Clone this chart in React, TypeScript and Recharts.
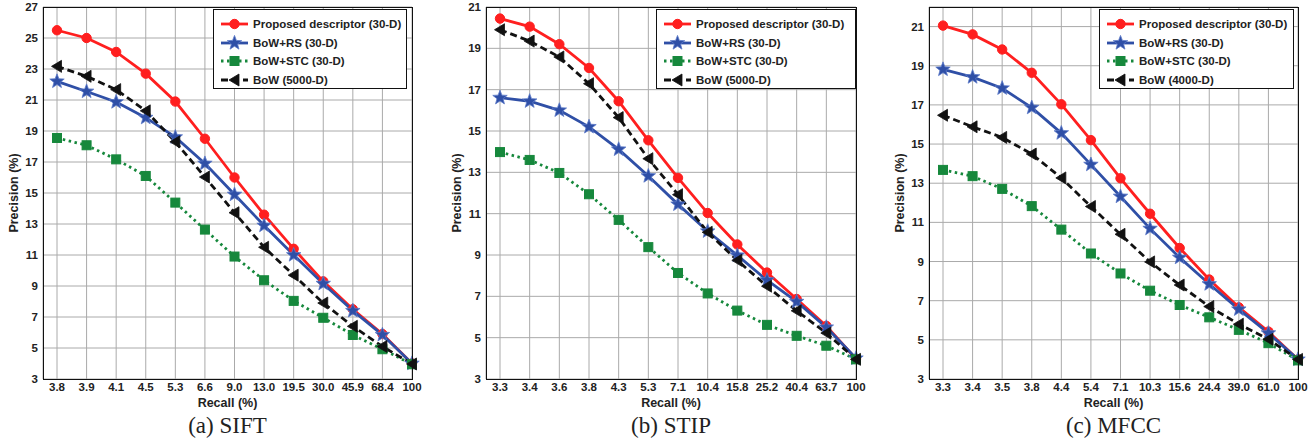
import React from "react";
import { LineChart, Line, XAxis, YAxis, CartesianGrid } from "recharts";

// (a) SIFT
const siftRecall = ["3.8", "3.9", "4.1", "4.5", "5.3", "6.6", "9.0", "13.0", "19.5", "30.0", "45.9", "68.4", "100"];
const siftProposed = [25.5, 25.0, 24.1, 22.7, 20.9, 18.5, 16.0, 13.6, 11.4, 9.3, 7.5, 5.9, 4.0];
const siftRS = [22.2, 21.55, 20.87, 19.86, 18.6, 16.9, 14.9, 12.9, 11.0, 9.15, 7.4, 5.85, 4.0];
const siftSTC = [18.55, 18.08, 17.17, 16.1, 14.38, 12.64, 10.9, 9.37, 8.04, 6.95, 5.84, 4.92, 3.95];
const siftBoW = [23.17, 22.53, 21.67, 20.3, 18.3, 16.03, 13.73, 11.5, 9.7, 7.9, 6.4, 5.1, 3.97];
const siftYTicks = [3, 5, 7, 9, 11, 13, 15, 17, 19, 21, 23, 25, 27];

// (b) STIP
const stipRecall = ["3.3", "3.4", "3.6", "3.8", "4.3", "5.3", "7.1", "10.4", "15.8", "25.2", "40.4", "63.7", "100"];
const stipProposed = [20.44, 20.05, 19.2, 18.05, 16.44, 14.55, 12.73, 11.03, 9.51, 8.15, 6.87, 5.57, 3.97];
const stipRS = [16.61, 16.44, 16.0, 15.2, 14.11, 12.82, 11.45, 10.15, 8.98, 7.78, 6.74, 5.5, 4.0];
const stipSTC = [13.98, 13.6, 12.97, 11.94, 10.7, 9.38, 8.13, 7.14, 6.31, 5.62, 5.09, 4.61, 3.95];
const stipBoW = [19.9, 19.35, 18.58, 17.29, 15.65, 13.66, 11.92, 10.1, 8.74, 7.49, 6.3, 5.22, 3.95];
const stipYTicks = [3, 5, 7, 9, 11, 13, 15, 17, 19, 21];

// (c) MFCC
const mfccRecall = ["3.3", "3.4", "3.5", "3.8", "4.4", "5.4", "7.1", "10.3", "15.6", "24.4", "39.0", "61.0", "100"];
const mfccProposed = [21.05, 20.6, 19.83, 18.64, 17.03, 15.2, 13.25, 11.44, 9.69, 8.08, 6.66, 5.42, 4.0];
const mfccRS = [18.81, 18.42, 17.85, 16.86, 15.56, 13.95, 12.32, 10.68, 9.2, 7.85, 6.56, 5.34, 4.0];
const mfccSTC = [13.68, 13.36, 12.71, 11.83, 10.63, 9.41, 8.39, 7.51, 6.78, 6.15, 5.51, 4.83, 3.95];
const mfccBoW = [16.47, 15.88, 15.34, 14.49, 13.27, 11.81, 10.39, 8.98, 7.8, 6.7, 5.8, 5.03, 4.0];
const mfccYTicks = [3, 5, 7, 9, 11, 13, 15, 17, 19, 21];

const RED = "#ff1f1f";
const BLUE = "#2f4fa6";
const GREEN = "#16883c";
const BLACK = "#111111";
const SANS = '"Liberation Sans", Arial, sans-serif';
const SERIF = '"Liberation Serif", "Times New Roman", serif';

function CircleMark({ cx, cy }: { cx: number; cy: number }) {
  return <circle cx={cx} cy={cy} r={4.7} fill={RED} stroke={RED} strokeWidth={1} />;
}

function StarMark({ cx, cy }: { cx: number; cy: number }) {
  const pts: string[] = [];
  for (let i = 0; i < 10; i++) {
    const r = i % 2 === 0 ? 7.6 : 3.2;
    const a = -Math.PI / 2 + (i * Math.PI) / 5;
    pts.push(`${cx + r * Math.cos(a)},${cy + r * Math.sin(a)}`);
  }
  return <polygon points={pts.join(" ")} fill={BLUE} stroke="#5a78c8" strokeWidth={0.8} />;
}

function SquareMark({ cx, cy }: { cx: number; cy: number }) {
  return <rect x={cx - 4.5} y={cy - 4.5} width={9} height={9} fill={GREEN} stroke={GREEN} />;
}

function TriMark({ cx, cy }: { cx: number; cy: number }) {
  return (
    <polygon
      points={`${cx - 5.5},${cy} ${cx + 4.5},${cy - 6} ${cx + 4.5},${cy + 6}`}
      fill={BLACK}
      stroke={BLACK}
      strokeWidth={0.8}
    />
  );
}

const dotOf = (name: string, Mark: React.FC<{ cx: number; cy: number }>) => (p: any) =>
  p.cx == null || p.cy == null ? (
    <g key={`${name}-${p.index}`} />
  ) : (
    <Mark key={`${name}-${p.index}`} cx={p.cx} cy={p.cy} />
  );

function LegendBox({ left, right, bowLabel }: { left: number; right: number; bowLabel: string }) {
  const w = right - left;
  const rows = [
    { label: "Proposed descriptor (30-D)", color: RED, dash: undefined, Mark: CircleMark },
    { label: "BoW+RS (30-D)", color: BLUE, dash: undefined, Mark: StarMark },
    { label: "BoW+STC (30-D)", color: GREEN, dash: "2.5 3.5", Mark: SquareMark },
    { label: bowLabel, color: BLACK, dash: "7 4", Mark: TriMark },
  ];
  const ys = [14, 33, 51, 70];
  return (
    <svg
      width={w}
      height={80}
      style={{ position: "absolute", left, top: 9, background: "#fff", border: `1px solid ${BLACK}`, boxSizing: "border-box" }}
    >
      {rows.map((r, i) => (
        <g key={r.label}>
          <line x1={7} x2={34} y1={ys[i]} y2={ys[i]} stroke={r.color} strokeWidth={2.8} strokeDasharray={r.dash} />
          <r.Mark cx={20.5} cy={ys[i]} />
          <text x={39} y={ys[i]} dominantBaseline="central" fontFamily={SANS} fontWeight="bold" fontSize={11.5} fill="#222">
            {r.label}
          </text>
        </g>
      ))}
    </svg>
  );
}

type PanelProps = {
  recall: string[];
  proposed: number[];
  rs: number[];
  stc: number[];
  bow: number[];
  bowLabel: string;
  yMax: number;
  yTicks: number[];
  plotLeft: number;
  plotRight: number;
  legendLeft: number;
  legendRight: number;
  caption: string;
};

function Panel(props: PanelProps) {
  const { recall, proposed, rs, stc, bow, yMax, yTicks, plotLeft, plotRight } = props;
  const data = recall.map((r, i) => ({
    recall: r,
    proposed: proposed[i],
    rs: rs[i],
    stc: stc[i],
    bow: bow[i],
  }));
  const chartLeft = plotLeft - 43;
  const width = plotRight - chartLeft + 12;
  const plotTop = 7;
  const plotBottom = 379;
  const mid = (plotLeft + plotRight) / 2;
  const tickStyle = { fontFamily: SANS, fontWeight: "bold" as const, fontSize: 11.5, fill: "#222" };

  return (
    <>
      <div style={{ position: "absolute", left: chartLeft, top: 0 }}>
        <LineChart width={width} height={441} data={data} margin={{ top: 7, right: 12, bottom: 32, left: 8 }}>
          <CartesianGrid stroke="#aaaaaa" strokeWidth={1} />
          <XAxis
            dataKey="recall"
            interval={0}
            padding={{ left: 14, right: 0 }}
            height={30}
            axisLine={false}
            tickLine={false}
            tickSize={2}
            tickMargin={2}
            tick={tickStyle}
          />
          <YAxis
            type="number"
            domain={[3, yMax]}
            ticks={yTicks}
            interval={0}
            width={35}
            axisLine={false}
            tickLine={false}
            tickSize={3}
            tickMargin={2}
            tick={tickStyle}
          />
          <Line dataKey="proposed" stroke={RED} strokeWidth={2.8} dot={dotOf("p", CircleMark)} activeDot={false} isAnimationActive={false} />
          <Line dataKey="rs" stroke={BLUE} strokeWidth={2.8} dot={dotOf("r", StarMark)} activeDot={false} isAnimationActive={false} />
          <Line
            dataKey="stc"
            stroke={GREEN}
            strokeWidth={2.8}
            strokeDasharray="2.5 3.5"
            dot={dotOf("s", SquareMark)}
            activeDot={false}
            isAnimationActive={false}
          />
          <Line
            dataKey="bow"
            stroke={BLACK}
            strokeWidth={2.8}
            strokeDasharray="7 4"
            dot={dotOf("b", TriMark)}
            activeDot={false}
            isAnimationActive={false}
          />
        </LineChart>
      </div>
      <div
        style={{
          position: "absolute",
          left: plotLeft,
          top: plotTop,
          width: plotRight - plotLeft + 1,
          height: plotBottom - plotTop + 1,
          border: `1px solid ${BLACK}`,
          boxSizing: "border-box",
          pointerEvents: "none",
        }}
      />
      <LegendBox left={props.legendLeft} right={props.legendRight} bowLabel={props.bowLabel} />
      <div
        style={{
          position: "absolute",
          left: plotLeft - 29 - 60,
          top: (plotTop + plotBottom) / 2 - 8,
          width: 120,
          textAlign: "center",
          transform: "rotate(-90deg)",
          fontFamily: SANS,
          fontWeight: "bold",
          fontSize: 12.5,
          color: "#222",
          lineHeight: "16px",
        }}
      >
        Precision (%)
      </div>
      <div
        style={{
          position: "absolute",
          left: mid - 60,
          top: 395,
          width: 120,
          textAlign: "center",
          fontFamily: SANS,
          fontWeight: "bold",
          fontSize: 12.5,
          color: "#222",
          lineHeight: "16px",
        }}
      >
        Recall (%)
      </div>
      <div
        style={{
          position: "absolute",
          left: mid - 100,
          top: 413,
          width: 200,
          textAlign: "center",
          fontFamily: SERIF,
          fontSize: 23,
          color: "#222",
          lineHeight: "26px",
        }}
      >
        {props.caption}
      </div>
    </>
  );
}

export default function App() {
  return (
    <div style={{ position: "absolute", left: 0, top: 0, width: 1315, height: 441, background: "#fff", overflow: "hidden" }}>
      <Panel
        recall={siftRecall}
        proposed={siftProposed}
        rs={siftRS}
        stc={siftSTC}
        bow={siftBoW}
        bowLabel="BoW (5000-D)"
        yMax={27}
        yTicks={siftYTicks}
        plotLeft={43}
        plotRight={412}
        legendLeft={213}
        legendRight={407}
        caption="(a) SIFT"
      />
      <Panel
        recall={stipRecall}
        proposed={stipProposed}
        rs={stipRS}
        stc={stipSTC}
        bow={stipBoW}
        bowLabel="BoW (5000-D)"
        yMax={21}
        yTicks={stipYTicks}
        plotLeft={486}
        plotRight={856}
        legendLeft={656}
        legendRight={856}
        caption="(b) STIP"
      />
      <Panel
        recall={mfccRecall}
        proposed={mfccProposed}
        rs={mfccRS}
        stc={mfccSTC}
        bow={mfccBoW}
        bowLabel="BoW (4000-D)"
        yMax={22}
        yTicks={mfccYTicks}
        plotLeft={929}
        plotRight={1298}
        legendLeft={1099}
        legendRight={1294}
        caption="(c) MFCC"
      />
    </div>
  );
}
